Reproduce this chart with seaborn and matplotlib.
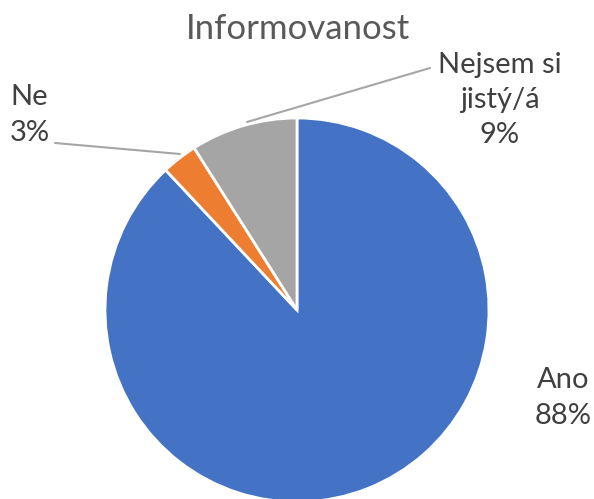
import matplotlib
matplotlib.use("Agg")
import matplotlib.pyplot as plt
import seaborn as sns

# data
categories = ["Ano", "Ne", "Nejsem si\njistý/á"]
shares = [88, 3, 9]
colors = ["#4472C4", "#ED7D31", "#A5A5A5"]

sns.set_theme(style="white")
plt.rcParams['font.family'] = ['Lato', 'DejaVu Sans']

W, H = 594, 499


def py(y):
    # pixel row (from top) -> data y
    return H - y


def main():
    fig = plt.figure(figsize=(W / 100, H / 100), dpi=100)
    ax = fig.add_axes([0, 0, 1, 1])
    palette = sns.color_palette(colors)
    ax.pie(shares, colors=palette, startangle=90, counterclock=False,
           center=(297, py(310)), radius=192,
           wedgeprops=dict(edgecolor="white", linewidth=2))
    ax.set_xlim(0, W)
    ax.set_ylim(0, H)
    ax.set_aspect("equal")
    ax.axis("off")

    txt = "#404040"
    fs = 21
    ax.text(298, py(29), "Informovanost", ha="center", va="center",
            fontsize=25, color="#595959")

    # data labels
    ax.text(563, py(398), f"{categories[0]}\n{shares[0]}%", ha="center", va="center",
            fontsize=fs, color=txt, linespacing=1.45)
    ax.text(10, py(115), f"{categories[1]}\n{shares[1]}%", ha="left", va="center",
            fontsize=fs, color=txt, linespacing=1.45)
    ax.text(500, py(100), f"{categories[2]}\n{shares[2]}%", ha="center", va="center",
            fontsize=fs, color=txt, linespacing=1.45)

    # leader lines
    ax.plot([55, 180], [py(143), py(154)], color="#A6A6A6", lw=1.5)
    ax.plot([430, 247], [py(68), py(122)], color="#A6A6A6", lw=1.5)

    fig.savefig("out.png", dpi=100)


if __name__ == "__main__":
    main()
